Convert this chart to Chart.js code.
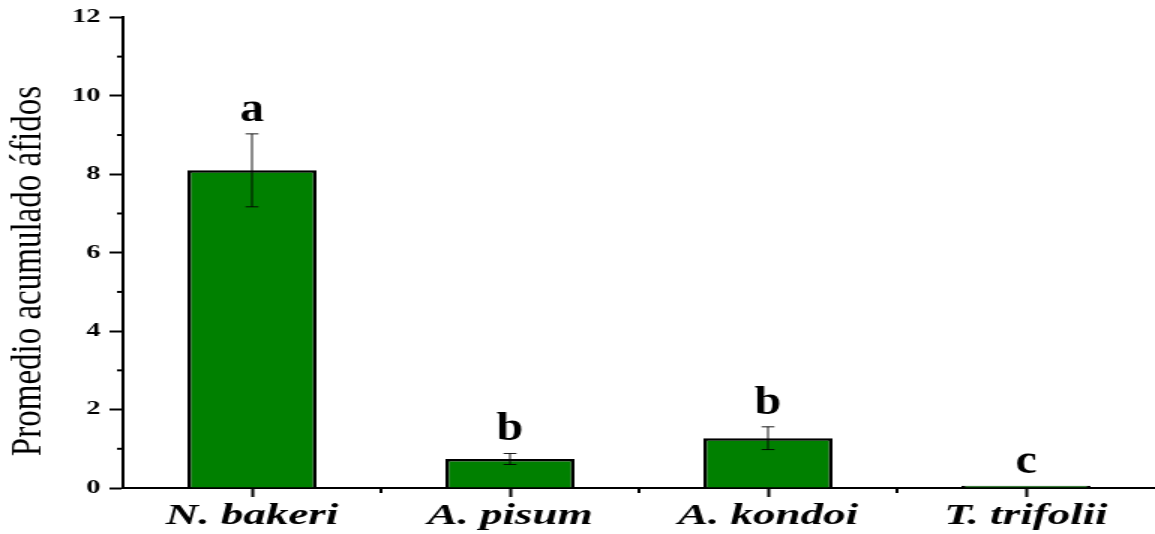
<!DOCTYPE html>
<html>
<head>
<meta charset="utf-8">
<script src="https://cdn.jsdelivr.net/npm/chart.js@4"></script>
<style>
  html, body { margin: 0; padding: 0; background: #fff; overflow: hidden; }
  /* the reference is stretched sideways, so the chart is drawn narrow and widened */
  #wrap { width: 770px; height: 534px; transform: scaleX(1.5); transform-origin: 0 0; }
</style>
</head>
<body>
<div id="wrap"><canvas id="aphidChart" width="770" height="534"></canvas></div>
<script>
const categories = ['N. bakeri', 'A. pisum', 'A. kondoi', 'T. trifolii'];
const means      = [8.1, 0.74, 1.27, 0.06];
const sem        = [0.93, 0.14, 0.29, 0];
const letters    = ['a', 'b', 'b', 'c'];
const yTicks     = [0, 2, 4, 6, 8, 10, 12];
const yMinor     = [1, 3, 5, 7, 9, 11];
const yTitle     = 'Promedio acumulado áfidos';

const SERIF = "'Liberation Serif', 'Times New Roman', Times, serif";

const extras = {
  id: 'extras',
  afterDatasetsDraw(chart) {
    const ctx = chart.ctx;
    const x = chart.scales.x, y = chart.scales.y;
    ctx.save();

    // error bars
    ctx.strokeStyle = '#000';
    ctx.lineWidth = 0.9;
    means.forEach((m, i) => {
      if (!sem[i]) return;
      const px = x.getPixelForValue(i);
      const top = y.getPixelForValue(m + sem[i]);
      const bot = y.getPixelForValue(m - sem[i]);
      ctx.beginPath();
      ctx.moveTo(px, top); ctx.lineTo(px, bot);
      ctx.moveTo(px - 4.3, top); ctx.lineTo(px + 4.3, top);
      ctx.moveTo(px - 4.3, bot); ctx.lineTo(px + 4.3, bot);
      ctx.stroke();
    });

    // significance letters (drawn narrower to undo most of the page stretch)
    ctx.fillStyle = '#000';
    ctx.font = 'bold 40px ' + SERIF;
    ctx.textAlign = 'center';
    ctx.textBaseline = 'alphabetic';
    letters.forEach((l, i) => {
      const px = x.getPixelForValue(i);
      const py = y.getPixelForValue(means[i] + sem[i]) - 13;
      ctx.save();
      ctx.translate(px, py);
      ctx.scale(0.8, 1);
      ctx.fillText(l, 0, 0);
      ctx.restore();
    });

    // minor y ticks
    ctx.lineWidth = 2;
    const ax = chart.chartArea.left;
    yMinor.forEach(v => {
      const py = y.getPixelForValue(v);
      ctx.beginPath();
      ctx.moveTo(ax - 4, py); ctx.lineTo(ax, py);
      ctx.stroke();
    });

    // x ticks between categories
    const base = chart.chartArea.bottom;
    for (let i = 0; i < categories.length - 1; i++) {
      const px = (x.getPixelForValue(i) + x.getPixelForValue(i + 1)) / 2;
      ctx.beginPath();
      ctx.moveTo(px, base); ctx.lineTo(px, base + 5);
      ctx.stroke();
    }

    // y axis title
    ctx.font = '33px ' + SERIF;
    ctx.textBaseline = 'middle';
    ctx.translate(19.5, 271);
    ctx.scale(0.9, 1);
    ctx.rotate(-Math.PI / 2);
    ctx.fillText(yTitle, 0, 0);
    ctx.restore();
  }
};

new Chart(document.getElementById('aphidChart'), {
  type: 'bar',
  data: {
    labels: categories,
    datasets: [{
      data: means,
      backgroundColor: '#008000',
      borderColor: '#000',
      borderWidth: 2.5,
      barPercentage: 0.5,
      categoryPercentage: 1.0
    }]
  },
  options: {
    responsive: false,
    animation: false,
    layout: { padding: { top: 17, left: 0, right: 0, bottom: 0 } },
    plugins: { legend: { display: false }, tooltip: { enabled: false } },
    scales: {
      x: {
        afterFit: s => { s.height = 46; },
        grid: { drawOnChartArea: false, offset: false, tickLength: 9, tickWidth: 2, tickColor: '#000' },
        border: { display: true, color: '#000', width: 2 },
        ticks: {
          color: '#000',
          padding: 1,
          maxRotation: 0,
          font: { family: SERIF, size: 30, weight: 'bold', style: 'italic' }
        }
      },
      y: {
        min: 0,
        max: 12,
        afterFit: s => { s.width = 82; },
        afterBuildTicks: s => { s.ticks = yTicks.map(v => ({ value: v })); },
        grid: { drawOnChartArea: false, tickLength: 9, tickWidth: 2, tickColor: '#000' },
        border: { display: true, color: '#000', width: 2 },
        ticks: {
          color: '#000',
          padding: 6,
          font: { family: SERIF, size: 19, weight: 'bold' }
        }
      }
    }
  },
  plugins: [extras]
});
</script>
</body>
</html>
